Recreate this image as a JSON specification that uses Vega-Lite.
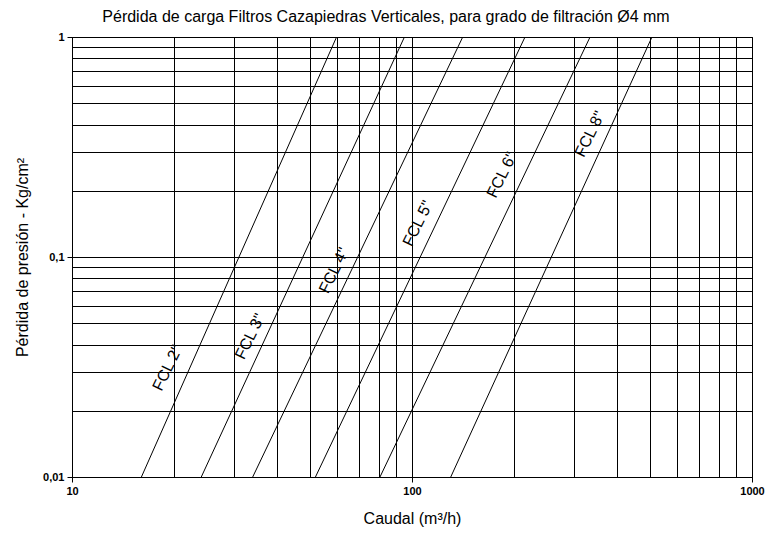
{
  "$schema": "https://vega.github.io/schema/vega-lite/v6.json",
  "width": 680,
  "height": 440,
  "autosize": {"type": "none"},
  "padding": {"left": 72, "top": 37, "right": 18, "bottom": 56},
  "background": "white",
  "config": {
    "font": "Liberation Sans",
    "view": {"stroke": "black", "strokeWidth": 1},
    "axis": {
      "gridColor": "black",
      "gridOpacity": 1,
      "gridWidth": 1,
      "domainColor": "black",
      "domainWidth": 1,
      "tickColor": "black",
      "tickSize": 5,
      "labelFont": "Liberation Sans",
      "labelFontSize": 11,
      "labelFontWeight": "bold",
      "labelColor": "black",
      "labelPadding": 3,
      "labelOverlap": false,
      "labelFlush": false,
      "titleFont": "Liberation Sans",
      "titleFontSize": 16,
      "titleFontWeight": "normal",
      "titleColor": "black"
    }
  },
  "title": {
    "text": "Pérdida de carga Filtros Cazapiedras Verticales, para grado de filtración Ø4 mm",
    "font": "Liberation Sans",
    "fontSize": 16,
    "fontWeight": "normal",
    "color": "black",
    "anchor": "middle",
    "dx": -26,
    "offset": 6
  },
  "datasets": {
    "curves": [
      {"serie": "FCL 2\"", "caudal": 16, "perdida": 0.01},
      {"serie": "FCL 2\"", "caudal": 60, "perdida": 1},
      {"serie": "FCL 3\"", "caudal": 24, "perdida": 0.01},
      {"serie": "FCL 3\"", "caudal": 95, "perdida": 1},
      {"serie": "FCL 4\"", "caudal": 34, "perdida": 0.01},
      {"serie": "FCL 4\"", "caudal": 141, "perdida": 1},
      {"serie": "FCL 5\"", "caudal": 52, "perdida": 0.01},
      {"serie": "FCL 5\"", "caudal": 215, "perdida": 1},
      {"serie": "FCL 6\"", "caudal": 80.5, "perdida": 0.01},
      {"serie": "FCL 6\"", "caudal": 334, "perdida": 1},
      {"serie": "FCL 8\"", "caudal": 130, "perdida": 0.01},
      {"serie": "FCL 8\"", "caudal": 508, "perdida": 1}
    ],
    "labels": [
      {"serie": "FCL 2\"", "caudal": 19.1, "perdida": 0.0313},
      {"serie": "FCL 3\"", "caudal": 33.4, "perdida": 0.0435},
      {"serie": "FCL 4\"", "caudal": 59.0, "perdida": 0.0868},
      {"serie": "FCL 5\"", "caudal": 104.1, "perdida": 0.142},
      {"serie": "FCL 6\"", "caudal": 183.9, "perdida": 0.236},
      {"serie": "FCL 8\"", "caudal": 333.8, "perdida": 0.362}
    ]
  },
  "layer": [
    {
      "data": {"name": "curves"},
      "mark": {"type": "line", "color": "black", "strokeWidth": 1, "clip": true},
      "encoding": {
        "x": {
          "field": "caudal",
          "type": "quantitative",
          "scale": {"type": "log", "domain": [10, 1000], "nice": false},
          "axis": {
            "title": "Caudal (m³/h)",
            "titlePadding": 14,
            "values": [10, 20, 30, 40, 50, 60, 70, 80, 90, 100, 200, 300, 400, 500, 600, 700, 800, 900, 1000],
            "grid": true,
            "labelExpr": "datum.value == 10 ? '10' : datum.value == 100 ? '100' : datum.value == 1000 ? '1000' : ''",
            "tickOpacity": {"condition": {"test": "datum.value == 10 || datum.value == 100 || datum.value == 1000", "value": 1}, "value": 0}
          }
        },
        "y": {
          "field": "perdida",
          "type": "quantitative",
          "scale": {"type": "log", "domain": [0.01, 1], "nice": false},
          "axis": {
            "title": "Pérdida de presión - Kg/cm²",
            "titlePadding": 12,
            "values": [0.01, 0.02, 0.03, 0.04, 0.05, 0.06, 0.07, 0.08, 0.09, 0.1, 0.2, 0.3, 0.4, 0.5, 0.6, 0.7, 0.8, 0.9, 1],
            "grid": true,
            "labelExpr": "datum.value == 0.01 ? '0,01' : datum.value == 0.1 ? '0,1' : datum.value == 1 ? '1' : ''",
            "tickOpacity": {"condition": {"test": "datum.value == 0.01 || datum.value == 0.1 || datum.value == 1", "value": 1}, "value": 0}
          }
        },
        "detail": {"field": "serie", "type": "nominal"}
      }
    },
    {
      "data": {"name": "labels"},
      "mark": {"type": "text", "angle": -64, "fontSize": 16, "font": "Liberation Sans", "color": "black", "align": "center", "baseline": "middle"},
      "encoding": {
        "x": {"field": "caudal", "type": "quantitative"},
        "y": {"field": "perdida", "type": "quantitative"},
        "text": {"field": "serie", "type": "nominal"}
      }
    }
  ]
}
